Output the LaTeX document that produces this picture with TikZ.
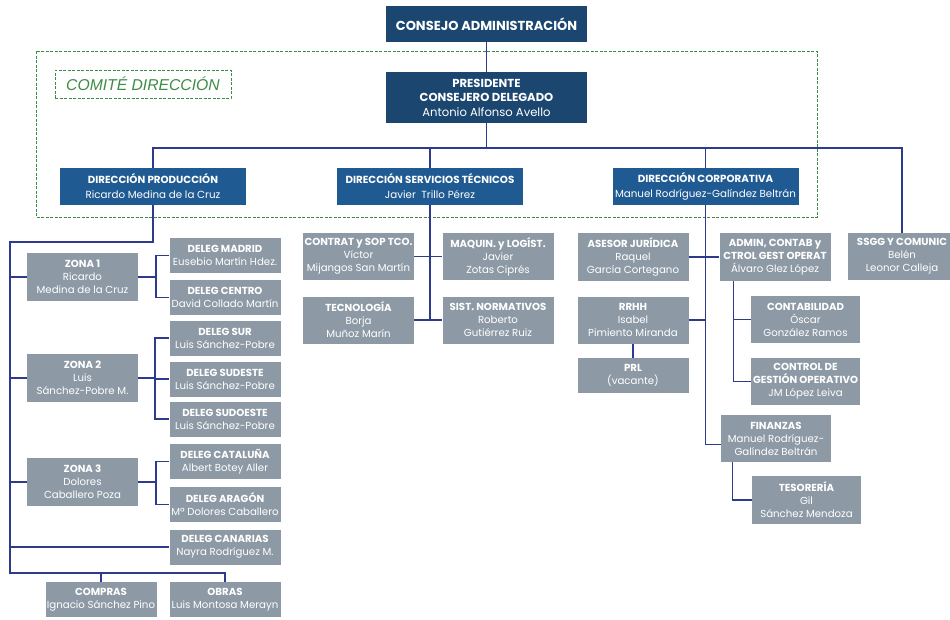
\documentclass[tikz,border=0pt]{standalone}
\usepackage{fontspec}
\setmainfont{Poppins}
\newfontfamily\comitefont{Liberation Sans}
\definecolor{navy}{HTML}{1B4670}
\definecolor{dirblue}{HTML}{1F5A93}
\definecolor{greybox}{HTML}{8D9AA6}
\definecolor{linec}{HTML}{2E3B8C}
\definecolor{dashgreen}{HTML}{3C8C46}
\tikzset{
  box/.style={inner sep=0pt, align=center, text=white},
  topbox/.style={box, fill=navy, minimum width=201pt, font=\bfseries\fontsize{11.6}{14.5}\selectfont},
  dirbox/.style={box, fill=dirblue, minimum width=186pt, minimum height=37pt, font=\fontsize{10.3}{15}\selectfont},
  gbox/.style={box, fill=greybox, font=\fontsize{10.2}{13}\selectfont},
  gw/.style={minimum width=111pt},
  h2/.style={minimum height=35pt},
  h3/.style={minimum height=47pt},
  conn/.style={draw=linec, line width=1.2pt},
  grdash/.style={draw=dashgreen, line width=0.9pt, dash pattern=on 3pt off 1.5pt}
}
\begin{document}
\begin{tikzpicture}[x=1pt,y=-1pt]
\useasboundingbox[fill=white] (0,0) rectangle (950,619);
% committee frame
\draw[grdash] (36,51) rectangle (817,217);
\node[grdash, minimum width=176pt, minimum height=28pt, inner sep=0pt, text=dashgreen, font=\comitefont\itshape\fontsize{15.7}{17}\selectfont] (comite) at (143,84) {COMITÉ DIRECCIÓN};
% top
\node[topbox, minimum height=36pt, font=\bfseries\fontsize{13}{15}\selectfont] (consejo) at (486.5,24) {CONSEJO ADMINISTRACIÓN};
\node[topbox, minimum height=51pt] (pres) at (486.5,97.5) {PRESIDENTE\\CONSEJERO DELEGADO\\\mdseries Antonio Alfonso Avello};
% directions
\node[dirbox] (dp) at (153,186.5) {\textbf{DIRECCIÓN PRODUCCIÓN}\\Ricardo Medina de la Cruz};
\node[dirbox] (dst) at (430,186.5) {\textbf{DIRECCIÓN SERVICIOS TÉCNICOS}\\Javier\ \ Trillo Pérez};
\node[dirbox] (dc) at (705.5,186.5) {\textbf{DIRECCIÓN CORPORATIVA}\\Manuel Rodríguez-Galíndez Beltrán};
% production
\node[gbox,gw,minimum height=48pt] (zona1) at (82.5,277) {\textbf{ZONA 1}\\Ricardo\\Medina de la Cruz};
\node[gbox,gw,minimum height=48pt] (zona2) at (82.5,378) {\textbf{ZONA 2}\\Luis\\Sánchez-Pobre M.};
\node[gbox,gw,minimum height=48pt] (zona3) at (82.5,482) {\textbf{ZONA 3}\\Dolores\\Caballero Poza};
\node[gbox,gw,h2] (madrid) at (225,255.5) {\textbf{DELEG MADRID}\\Eusebio Martín Hdez.};
\node[gbox,gw,h2] (centro) at (225,297.5) {\textbf{DELEG CENTRO}\\David Collado Martín};
\node[gbox,gw,h2] (sur) at (225,338) {\textbf{DELEG SUR}\\Luis Sánchez-Pobre};
\node[gbox,gw,h2] (sudeste) at (225,379) {\textbf{DELEG SUDESTE}\\Luis Sánchez-Pobre};
\node[gbox,gw,h2] (sudoeste) at (225,419) {\textbf{DELEG SUDOESTE}\\Luis Sánchez-Pobre};
\node[gbox,gw,h2] (cataluna) at (225,461.5) {\textbf{DELEG CATALUÑA}\\Albert Botey Aller};
\node[gbox,gw,h2] (aragon) at (225,504.5) {\textbf{DELEG ARAGÓN}\\Mª Dolores Caballero};
\node[gbox,gw,h2] (canarias) at (225,547) {\textbf{DELEG CANARIAS}\\Nayra Rodríguez M.};
\node[gbox,gw,h2] (compras) at (101,599.5) {\textbf{COMPRAS}\\Ignacio Sánchez Pino};
\node[gbox,gw,h2] (obras) at (225,599.5) {\textbf{OBRAS}\\Luis Montosa Merayn};
% technical
\node[gbox,gw,h3] (contrat) at (358.5,256.5) {\textbf{CONTRAT y SOP TCO.}\\Víctor\\Mijangos San Martín};
\node[gbox,gw,h3] (maquin) at (498,256.5) {\textbf{MAQUIN. y LOGÍST.}\\Javier\\Zotas Ciprés};
\node[gbox,gw,h3] (tecno) at (358.5,320) {\textbf{TECNOLOGÍA}\\Borja\\Muñoz Marín};
\node[gbox,gw,h3] (sist) at (498,320) {\textbf{SIST. NORMATIVOS}\\Roberto\\Gutiérrez Ruiz};
% corporate
\node[gbox,gw,minimum height=48pt] (asesor) at (633,257) {\textbf{ASESOR JURÍDICA}\\Raquel\\García Cortegano};
\node[gbox,gw,minimum height=48pt] (admin) at (775,257) {\textbf{ADMIN, CONTAB y}\\\textbf{CTROL GEST OPERAT}\\Álvaro Glez López};
\node[gbox,minimum width=108pt,h3] (ssgg) at (902,256.5) {\textbf{SSGG Y COMUNIC}\\Belén\\Leonor Calleja};
\node[gbox,gw,h3] (rrhh) at (633,320) {\textbf{RRHH}\\Isabel\\Pimiento Miranda};
\node[gbox,gw,h2] (prl) at (633,375.5) {\textbf{PRL}\\(vacante)};
\node[gbox,minimum width=109pt,h3] (contab) at (805.5,319.5) {\textbf{CONTABILIDAD}\\Óscar\\González Ramos};
\node[gbox,minimum width=109pt,h3] (control) at (805.5,381.5) {\textbf{CONTROL DE}\\\textbf{GESTIÓN OPERATIVO}\\JM López Leiva};
\node[gbox,minimum width=110pt,h3] (finanzas) at (776,438.5) {\textbf{FINANZAS}\\Manuel Rodríguez-\\Galíndez Beltrán};
\node[gbox,minimum width=109pt,minimum height=48pt] (tesoreria) at (806.5,500) {\textbf{TESORERÍA}\\Gil\\Sánchez Mendoza};
% connectors top
\coordinate (bus) at (0,148);
\draw[conn] (consejo) -- (pres);
\draw[conn] (pres.south) -- (pres.south |- bus);
\draw[conn] (dp.north) |- (bus -| ssgg.north) -- (ssgg.north);
\draw[conn] (dst.north) -- (dst.north |- bus);
\draw[conn] (dc.north) -- (dc.north |- bus);
% production connectors
\coordinate (pl) at (10,242);
\coordinate (pb) at (10,573);
\draw[conn] (dp.south) |- (pl) -- (pb) -| (obras.north);
\draw[conn] (compras.north) -- (compras.north |- pb);
\draw[conn] (zona1.west) -- (zona1.west -| pl);
\draw[conn] (zona2.west) -- (zona2.west -| pl);
\draw[conn] (zona3.west) -- (zona3.west -| pl);
\draw[conn] (canarias.west) -- (canarias.west -| pl);
\coordinate (j1) at (156,277);
\draw[conn] (zona1.east) -- (j1);
\draw[conn] (madrid.west) -| (j1) |- (centro.west);
\coordinate (j2) at (155,378);
\draw[conn] (zona2.east) -- (j2);
\draw[conn] (sur.west) -| (j2) |- (sudoeste.west);
\draw[conn] (sudeste.west) -- (sudeste.west -| j2);
\coordinate (j3) at (156,482);
\draw[conn] (zona3.east) -- (j3);
\draw[conn] (cataluna.west) -| (j3) |- (aragon.west);
% technical connectors
\draw[conn] (dst.south) -- (dst.south |- tecno.east);
\draw[conn] (contrat.east) -- (maquin.west);
\draw[conn] (tecno.east) -- (sist.west);
% corporate connectors
\draw[conn] (dc.south) |- ([yshift=-6pt]finanzas.west);
\draw[conn] (asesor.east) -- (admin.west);
\draw[conn] (rrhh.east) -- (rrhh.east -| dc.south);
\draw[conn] (rrhh.south) -- (prl.north);
\coordinate (aj) at ([xshift=14pt]admin.south west);
\draw[conn] (aj) |- (control.west);
\draw[conn] (contab.west) -- (contab.west -| aj);
\coordinate (fj) at ([xshift=12pt]finanzas.south west);
\draw[conn] (fj) |- (tesoreria.west);
\end{tikzpicture}
\end{document}
